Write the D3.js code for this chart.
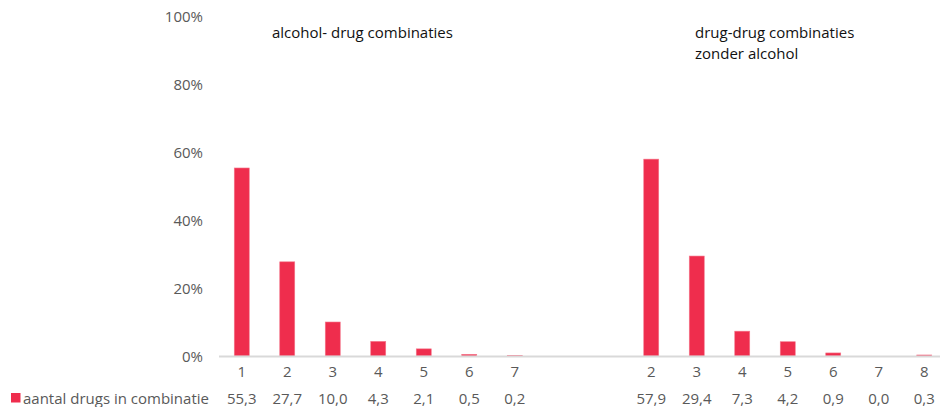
<!DOCTYPE html>
<html>
<head>
<meta charset="utf-8">
<script src="https://cdn.jsdelivr.net/npm/d3@7"></script>
<style>
  html, body { margin: 0; padding: 0; background: #fff; }
  svg { display: block; }
  text { font-family: "Open Sans", "Noto Sans", sans-serif; }
</style>
</head>
<body>
<svg id="chart" width="940" height="407"></svg>
<script>
// Share of cases by number of drugs in the combination (percent)
const alcoholCats = ["1", "2", "3", "4", "5", "6", "7"];
const alcoholValues = [55.3, 27.7, 10.0, 4.3, 2.1, 0.5, 0.2];
const drugCats = ["2", "3", "4", "5", "6", "7", "8"];
const drugValues = [57.9, 29.4, 7.3, 4.2, 0.9, 0.0, 0.3];
const gapSlots = 2;
const yTicks = [0, 20, 40, 60, 80, 100];
const seriesName = "aantal drugs in combinatie";
const groupTitles = [["alcohol- drug combinaties"], ["drug-drug combinaties", "zonder alcohol"]];

(function draw() {
  // One row per category slot, with empty slots separating the two groups
  const rows = [];
  alcoholCats.forEach((c, i) => rows.push({ key: "a" + c, label: c, value: alcoholValues[i] }));
  for (let g = 0; g < gapSlots; g++) rows.push({ key: "gap" + g, label: "", value: null });
  drugCats.forEach((c, i) => rows.push({ key: "d" + c, label: c, value: drugValues[i] }));

  const svg = d3.select("#chart");
  const plotLeft = 219, plotRight = 947, plotTop = 16, base = 356;

  const x = d3.scaleBand().domain(rows.map(r => r.key)).range([plotLeft, plotRight]);
  const y = d3.scaleLinear().domain([0, 100]).range([base, plotTop]);
  const barW = 15;
  const red = "#ef2d4d";
  const grey = "#595959";
  const fs = 15;

  // y-axis labels
  svg.append("g").selectAll("text").data(yTicks).join("text")
    .attr("x", 203).attr("y", d => y(d) + 5.5)
    .attr("text-anchor", "end")
    .attr("font-size", fs).attr("fill", grey)
    .text(d => d + "%");

  // bars
  svg.append("g").selectAll("rect").data(rows.filter(r => r.value !== null)).join("rect")
    .attr("x", d => x(d.key) + x.bandwidth() / 2 - barW / 2)
    .attr("y", d => y(d.value))
    .attr("width", barW)
    .attr("height", d => base - y(d.value))
    .attr("fill", red)
    .attr("stroke", "#f5788c").attr("stroke-width", 0.6);

  // baseline
  svg.append("line")
    .attr("x1", plotLeft).attr("x2", plotRight).attr("y1", base + 0.5).attr("y2", base + 0.5)
    .attr("stroke", "#d9d9d9").attr("stroke-width", 2);

  // category labels
  svg.append("g").selectAll("text").data(rows).join("text")
    .attr("x", d => x(d.key) + x.bandwidth() / 2)
    .attr("y", 377)
    .attr("text-anchor", "middle")
    .attr("font-size", fs).attr("fill", grey)
    .text(d => d.label);

  // data table row
  const nl = d3.formatLocale({ decimal: ",", thousands: ".", grouping: [3], currency: ["€", ""] });
  const fmt = nl.format(".1f");
  svg.append("g").selectAll("text").data(rows.filter(r => r.value !== null)).join("text")
    .attr("x", d => x(d.key) + x.bandwidth() / 2)
    .attr("y", 404)
    .attr("text-anchor", "middle")
    .attr("font-size", fs).attr("fill", grey)
    .text(d => fmt(d.value));

  // legend key
  svg.append("rect").attr("x", 11).attr("y", 393).attr("width", 9.5).attr("height", 9.5).attr("fill", red);
  svg.append("text").attr("x", 23).attr("y", 404)
    .attr("font-size", fs).attr("fill", grey).text(seriesName);

  // group titles
  const titlePos = [[272, 38], [695, 38]];
  groupTitles.forEach((lines, gi) => {
    const t = svg.append("text").attr("x", titlePos[gi][0]).attr("y", titlePos[gi][1])
      .attr("font-size", 15).attr("fill", "#111");
    lines.forEach((ln, li) => t.append("tspan").attr("x", titlePos[gi][0]).attr("dy", li ? 21 : 0).text(ln));
  });
})();
</script>
</body>
</html>
